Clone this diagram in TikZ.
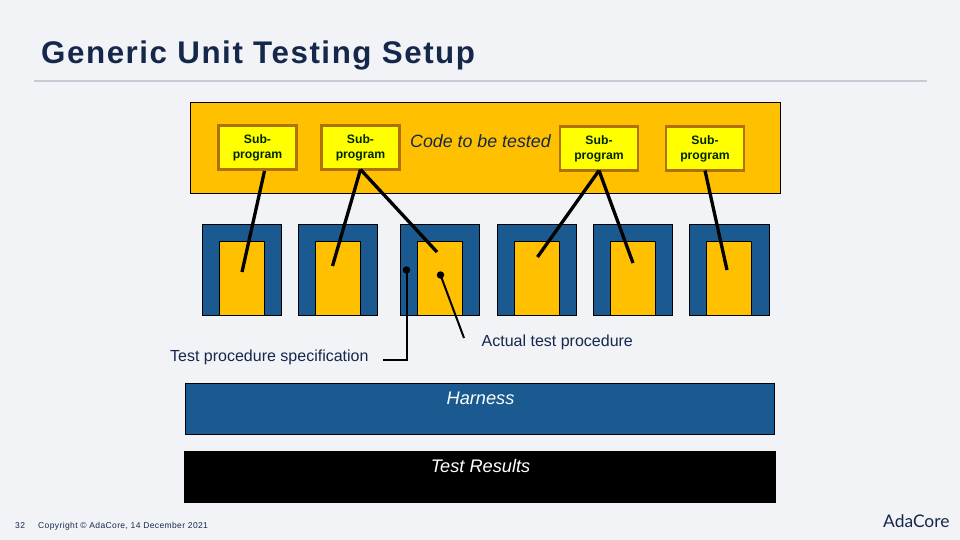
\documentclass[tikz,border=0pt]{standalone}
\usepackage{fontspec}
\setmainfont{Liberation Sans}
\newfontfamily\titlefont[LetterSpace=5]{Liberation Sans}
\newfontfamily\footfont[LetterSpace=4.5]{Liberation Sans}
\newfontfamily\logofont{Lato}
\usetikzlibrary{positioning}

\definecolor{pagegray}{HTML}{F2F3F7}
\definecolor{rulegray}{HTML}{C8CBD5}
\definecolor{navy}{HTML}{15284B}
\definecolor{codeorange}{HTML}{FFC000}
\definecolor{harnessblue}{HTML}{1A5A90}
\definecolor{subyellow}{HTML}{FFFF00}
\definecolor{subborder}{HTML}{B0700A}

\tikzset{
  block/.style={draw=black, line width=0.8pt, inner sep=0pt, outer sep=0pt},
  subbox/.style={draw=subborder, fill=subyellow, line width=2.05pt, inner sep=0pt, outer sep=0pt,
    minimum width=78pt, minimum height=44pt, align=center, font=\bfseries\fontsize{12.2}{15}\selectfont, text=black!85!green},
  bluebox/.style={block, fill=harnessblue, minimum width=79.2pt, minimum height=91pt},
  procbox/.style={block, fill=codeorange, minimum width=45pt, minimum height=74.5pt},
  label/.style={text=navy, inner sep=0pt, anchor=base west, font=\fontsize{16}{18}\selectfont},
  heading/.style={inner sep=0pt, anchor=base, font=\itshape\fontsize{18.2}{20}\selectfont},
  link/.style={draw=black, line width=3.3pt},
  pointer/.style={draw=black, line width=2pt},
  dot/.style={circle, fill=black, inner sep=0pt, minimum size=7.5pt}
}

\begin{document}
\begin{tikzpicture}[x=1pt, y=-1pt]
  % Page background fixes the proportions
  \fill[pagegray] (0,0) rectangle (960,540);
  \useasboundingbox (0,0) rectangle (960,540);

  % Title and rule
  \node[label, font=\titlefont\bfseries\fontsize{31.3}{34}\selectfont] (title) at (41,64) {Generic Unit Testing Setup};
  \coordinate (ruleL) at (34,81);
  \coordinate (ruleR) at (927,81);
  \draw[rulegray, line width=1.6pt] (ruleL) -- (ruleR);

  % Code under test
  \node[block, fill=codeorange, minimum width=590pt, minimum height=90.5pt] (code) at (485.5,147.75) {};
  \node[label, font=\itshape\fontsize{17.8}{20}\selectfont] (codetext) at (410,147.5) {Code to be tested};

  % Subprograms
  \foreach \n/\x/\y in {1/257.5/147.5, 2/360.5/147.5, 3/599/148.5, 4/705/148.5} {
    \node[subbox] (sub\n) at (\x,\y) {Sub-\\program};
  }

  % Test procedures
  \foreach \n/\x in {1/241.8, 2/337.8, 3/440.2, 4/536.8, 5/632.8, 6/729.3} {
    \node[bluebox] (blue\n) at (\x,269.75) {};
    \node[procbox] (proc\n) at (\x,278.25) {};
  }

  % Ends of the links inside the procedures
  \coordinate (subA) at (264.5,171);
  \coordinate (endA) at (242,272);
  \coordinate (endB) at (332.5,266);
  \coordinate (endC) at (437,252);
  \coordinate (endD) at (537.5,257);
  \coordinate (endE) at (633,263);
  \coordinate (endF) at (727,270);

  % Links from subprograms to procedures
  \draw[link] (subA) -- (endA);
  \draw[link] (sub2.south) -- (endB);
  \draw[link] (sub2.south) -- (endC);
  \draw[link] (sub3.south) -- (endD);
  \draw[link] (sub3.south) -- (endE);
  \draw[link] (sub4.south) -- (endF);

  % Callouts
  \node[label] (spec) at (170,361.5) {Test procedure specification};
  \node[label] (actual) at (481.5,346.5) {Actual test procedure};
  \node[dot] (dotspec) at (406.5,270) {};
  \node[dot] (dotproc) at (440.5,275) {};
  \coordinate (specend) at (383,360);
  \coordinate (procend) at (464,338);
  \draw[pointer] (dotspec.center) |- (specend);
  \draw[pointer] (dotproc.center) -- (procend);

  % Harness and results
  \node[block, fill=harnessblue, minimum width=589.2pt, minimum height=50.5pt, anchor=north west] (harness) at (185,383.5) {};
  \node[heading, text=white] (harnesstext) at (480.5,404) {Harness};
  \node[block, fill=black, minimum width=591.5pt, minimum height=51.5pt, anchor=north west] (results) at (184,451) {};
  \node[heading, text=white] (resultstext) at (480.5,472) {Test Results};

  % Footer
  \node[label, font=\footfont\fontsize{8.5}{10}\selectfont] (page) at (15,528) {32};
  \node[label, font=\footfont\fontsize{8.5}{10}\selectfont] (copy) at (38,528) {Copyright © AdaCore, 14 December 2021};
  \node[label, font=\logofont\fontsize{17.4}{20}\selectfont] (logo) at (883,527.5) {AdaCore};
\end{tikzpicture}
\end{document}
